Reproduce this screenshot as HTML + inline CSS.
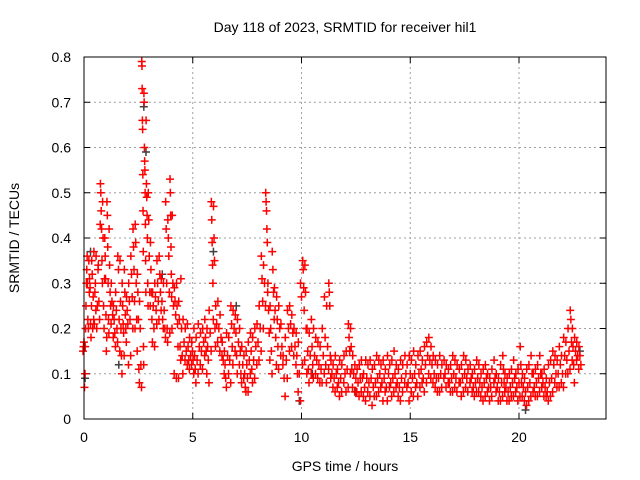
<!DOCTYPE html>
<html><head><meta charset="utf-8"><style>
body{margin:0;background:#fff}
svg{display:block;font-family:"Liberation Sans",sans-serif}
</style></head><body>
<svg id="chart" width="640" height="480" viewBox="0 0 640 480" xmlns="http://www.w3.org/2000/svg">
<rect width="640" height="480" fill="#fff"/>
<text x="345" y="32" font-size="14" text-anchor="middle">Day 118 of 2023, SRMTID for receiver hil1</text>
<text x="345" y="471" font-size="14" text-anchor="middle">GPS time / hours</text>
<text transform="translate(19,238) rotate(-90)" font-size="14" text-anchor="middle">SRMTID / TECUs</text>
<g id="grid"></g>
<g id="ticks"></g>
<g id="gray"></g>
<g id="red"></g>
<rect x="84" y="57" width="522" height="362" fill="none" stroke="#000" stroke-width="1"/>
</svg>
<script>
const xTicks=[0,5,10,15,20];
const yTicks=[0,0.1,0.2,0.3,0.4,0.5,0.6,0.7,0.8];
const yTickLabels=["0","0.1","0.2","0.3","0.4","0.5","0.6","0.7","0.8"];
const redTimes=[0,0.1,0.2,0.3,0.4,0.5,0.6,0.7,0.8,0.9,1.0,1.1,1.2,1.3,1.4,1.5,1.6,1.7,1.8,1.9,2.0,2.1,2.2,2.3,2.4,2.5,2.6,2.7,2.8,2.9,3.0,3.1,3.2,3.3,3.4,3.5,3.6,3.7,3.8,3.9,4.0,4.1,4.2,4.3,4.4,4.5,4.6,4.7,4.8,4.9,5.0,5.1,5.2,5.3,5.4,5.5,5.6,5.7,5.8,5.9,6.0,6.1,6.2,6.3,6.4,6.5,6.6,6.7,6.8,6.9,7.0,7.1,7.2,7.3,7.4,7.5,7.6,7.7,7.8,7.9,8.0,8.1,8.2,8.3,8.4,8.5,8.6,8.7,8.8,8.9,9.0,9.1,9.2,9.3,9.4,9.5,9.6,9.7,9.8,9.9,10.0,10.1,10.2,10.3,10.4,10.5,10.6,10.7,10.8,10.9,11.0,11.1,11.2,11.3,11.4,11.5,11.6,11.7,11.8,11.9,12.0,12.1,12.2,12.3,12.4,12.5,12.6,12.7,12.8,12.9,13.0,13.1,13.2,13.3,13.4,13.5,13.6,13.7,13.8,13.9,14.0,14.1,14.2,14.3,14.4,14.5,14.6,14.7,14.8,14.9,15.0,15.1,15.2,15.3,15.4,15.5,15.6,15.7,15.8,15.9,16.0,16.1,16.2,16.3,16.4,16.5,16.6,16.7,16.8,16.9,17.0,17.1,17.2,17.3,17.4,17.5,17.6,17.7,17.8,17.9,18.0,18.1,18.2,18.3,18.4,18.5,18.6,18.7,18.8,18.9,19.0,19.1,19.2,19.3,19.4,19.5,19.6,19.7,19.8,19.9,20.0,20.1,20.2,20.3,20.4,20.5,20.6,20.7,20.8,20.9,21.0,21.1,21.2,21.3,21.4,21.5,21.6,21.7,21.8,21.9,22.0,22.1,22.2,22.3,22.4,22.5,22.6,22.7,22.8];
const redValues=[
[.15,.16,.17,.07,.10],[.16,.2,.25,.3,.33,.36],[.3,.22,.2,.35,.28],[.31,.29,.21,.18,.25],[.35,.32,.2,.27,.22],[.37,.21,.28,.3,.24],[.36,.2,.25,.33],[.34,.26,.22,.43],[.52,.5,.46,.42,.35,.3],[.48,.4,.25,.2,.31],
[.4,.36,.31,.23,.15,.18],[.48,.45,.38,.3,.22,.19],[.42,.34,.28,.25,.21],[.3,.26,.23,.18],[.25,.22,.19,.16],[.28,.24,.2,.17],[.36,.33,.22,.15],[.35,.26,.2,.14,.1],[.3,.25,.21,.19,.14],[.33,.28,.23,.2,.17],
[.27,.24,.21,.12],[.3,.26,.22,.14],[.36,.32,.27,.2],[.42,.38,.33,.26,.2],[.43,.39,.3,.22,.15],[.32,.28,.22,.11,.08],[.26,.2,.12,.07],[.79,.78,.73,.66,.64,.54,.46,.37,.16,.12],[.72,.7,.6,.57,.55,.5,.43,.35,.28],[.66,.52,.49,.45,.4,.3,.25],
[.5,.44,.36,.28,.25],[.39,.33,.28,.22,.17],[.28,.25,.2,.16],[.3,.27,.24,.21],[.35,.3,.26,.22],[.36,.32,.28,.24],[.31,.26,.22,.2],[.3,.24,.2,.18],[.48,.42,.3,.2,.17],[.44,.4,.36,.28,.19],
[.53,.5,.45,.38,.32,.27,.2],[.45,.3,.25,.1],[.29,.26,.23,.09],[.3,.25,.21,.16,.09],[.26,.22,.16,.13],[.31,.2,.14,.1],[.22,.17,.13],[.2,.15,.12],[.21,.16,.13,.11],[.18,.14,.12],
[.17,.15,.13,.1],[.2,.14,.11,.08],[.18,.13,.1],[.21,.16,.12],[.19,.15,.11],[.2,.17,.14],[.22,.18,.15,.1],[.2,.16,.13,.08],[.24,.19,.15],[.48,.44,.39,.34,.3,.22],
[.47,.4,.35,.2,.16],[.25,.21,.17],[.26,.2,.15],[.23,.18,.14],[.17,.13,.1],[.15,.12,.09,.07],[.19,.14,.1],[.18,.13,.08],[.25,.21,.16,.12],[.24,.2,.15],
[.23,.19,.14,.1],[.22,.17,.12],[.2,.15,.1,.08],[.16,.12,.09],[.14,.1,.07,.06],[.15,.12,.09,.06],[.17,.13,.1],[.19,.15,.11,.08],[.18,.13,.09],[.2,.16,.12],
[.21,.17,.13],[.25,.2,.15],[.36,.31,.26,.2],[.34,.3,.25],[.5,.48,.46,.42,.39,.28],[.3,.24,.19,.13],[.25,.2,.15,.1],[.37,.33,.28,.22],[.29,.24,.18,.12],[.27,.22,.16,.11],
[.25,.2,.14],[.21,.16,.12],[.14,.09,.05],[.18,.13,.09],[.24,.2,.15],[.25,.21,.16],[.23,.19,.14],[.2,.16,.12],[.19,.14,.1,.06],[.17,.1,.04],
[.3,.27,.12],[.35,.33,.29,.24,.13],[.34,.28,.2,.1],[.2,.15,.11,.08],[.19,.14,.1],[.22,.16,.12,.09],[.2,.14,.1],[.18,.13,.09],[.17,.12,.08],[.16,.11,.08],
[.2,.14,.1],[.27,.18,.12,.08],[.25,.16,.11],[.3,.28,.25,.14,.09],[.13,.1,.07],[.12,.09,.06],[.14,.1,.07],[.11,.08,.05],[.13,.09,.06],[.12,.08],
[.14,.1,.06],[.15,.11,.07],[.21,.18,.15,.1],[.2,.16,.11,.07],[.14,.1,.06],[.12,.09,.06],[.11,.08,.05],[.12,.09,.06],[.13,.09,.05],[.1,.07,.04],
[.13,.09,.06],[.12,.08,.05],[.13,.09,.03],[.11,.07,.05],[.12,.08,.05],[.14,.09,.06],[.13,.1,.07],[.12,.08,.04],[.13,.09,.06],[.11,.07,.04],
[.14,.1,.07],[.12,.08,.05],[.13,.09,.06],[.15,.1,.07],[.12,.08,.05],[.11,.07,.04],[.13,.09,.06],[.12,.08],[.14,.1,.07],[.12,.08,.04],
[.14,.1,.06],[.13,.09,.05],[.15,.1,.07],[.12,.08,.05],[.14,.1,.07],[.15,.11,.08],[.13,.09,.06],[.16,.12,.08],[.17,.14,.1],[.18,.13,.09],
[.16,.12,.08],[.14,.1,.07],[.13,.09,.06],[.12,.09,.06],[.14,.1,.07],[.12,.09],[.13,.1,.07],[.12,.08],[.11,.08,.06],[.12,.09,.06],
[.14,.1,.07],[.13,.09,.06],[.12,.08],[.11,.08,.05],[.12,.09,.06],[.14,.1,.07],[.13,.09,.06],[.11,.08],[.12,.09,.06],[.1,.07,.05],
[.11,.08,.06],[.13,.09,.06],[.12,.08,.05],[.1,.07,.04],[.11,.08,.05],[.12,.09,.06],[.1,.07,.04],[.09,.07,.05],[.11,.08],[.13,.09,.06],
[.1,.07,.04],[.09,.06,.04],[.12,.08,.05],[.14,.11,.08,.06],[.1,.07,.04],[.09,.06,.04],[.1,.07,.05],[.11,.08,.05],[.13,.09,.06],[.1,.07,.04],
[.11,.08,.05],[.16,.12,.08,.05],[.1,.07,.04],[.09,.06,.03],[.11,.07,.04],[.12,.08,.05],[.14,.1,.06],[.1,.07,.05],[.11,.08,.05],[.12,.09,.06],
[.14,.1,.07],[.1,.08,.05],[.11,.07,.05],[.09,.06,.04],[.12,.08,.05],[.13,.09,.06],[.15,.12,.08],[.14,.1,.07],[.13,.1,.07],[.16,.12,.08],
[.14,.1,.07],[.18,.14,.1],[.17,.13,.1],[.2,.15,.11],[.24,.22,.17,.13],[.2,.16,.12,.08],[.18,.15,.13],[.17,.14,.11],[.16,.14,.12]];
const grayTimes=[0.05,0.3,1.6,2.75,2.85,3.6,5.95,7.0,9.9,10.5,12.5,20.3,22.8];
const grayValues=[0.09,0.37,0.12,0.69,0.59,0.32,0.37,0.25,0.04,0.1,0.06,0.02,0.15];

const X0=84,X1=606,Y0=419,Y1=57,XMAX=24,YMAX=0.8;
function sx(v){return X0+(X1-X0)*v/XMAX;}
function sy(v){return Y0-(Y0-Y1)*v/YMAX;}
const NS="http://www.w3.org/2000/svg";
function mk(tag,attrs,parent){const e=document.createElementNS(NS,tag);for(const k in attrs)e.setAttribute(k,attrs[k]);parent.appendChild(e);return e;}
const grid=document.getElementById('grid'),ticks=document.getElementById('ticks');
xTicks.forEach(t=>{
  const x=sx(t);
  if(t>0){const g=mk('line',{x1:x,x2:x,y1:Y1,y2:Y0,stroke:'#a0a0a0','stroke-dasharray':'2,3','stroke-width':1},grid);
  
  }
  const tl=mk('line',{x1:x,x2:x,y1:Y0,y2:Y0-6,stroke:'#000'},ticks);
  
  
  const tt=mk('line',{x1:x,x2:x,y1:Y1,y2:Y1+6,stroke:'#000'},ticks);
  
  
  const tx=mk('text',{x:x,y:Y0+23,'font-size':14,'text-anchor':'middle'},ticks);tx.textContent=String(t);
  
  
});
yTicks.forEach((t,i)=>{
  const y=sy(t);
  if(t>0&&t<0.8){const g=mk('line',{x1:X0,x2:X1,y1:y,y2:y,stroke:'#a0a0a0','stroke-dasharray':'2,3','stroke-width':1},grid);
  
  }
  const tl=mk('line',{x1:X0,x2:X0+6,y1:y,y2:y,stroke:'#000'},ticks);
  
  
  const tr=mk('line',{x1:X1,x2:X1-6,y1:y,y2:y,stroke:'#000'},ticks);
  
  
  const tx=mk('text',{x:X0-13,y:y+5,'font-size':14,'text-anchor':'end'},ticks);tx.textContent=yTickLabels[i];
  
  
});
function plus(x,y,color,parent){
  return mk('path',{d:`M${x-4},${y}H${x+4}M${x},${y-4}V${y+4}`,stroke:color,'stroke-width':1.5,fill:'none'},parent);
}
const gg=document.getElementById('gray');
grayTimes.forEach((t,i)=>{
  const p=plus(sx(t),sy(grayValues[i]),'#404040',gg);
  
  
});
const rg=document.getElementById('red');
redTimes.forEach((t,i)=>{
  const n=redValues[i].length;
  redValues[i].forEach((v,j)=>{
    const jit=n>1?(j/(n-1)-0.5)*0.09:0;
    const p=plus(sx(t+jit),sy(v),'#ff0000',rg);
    
    
  });
});
</script>
</body></html>
